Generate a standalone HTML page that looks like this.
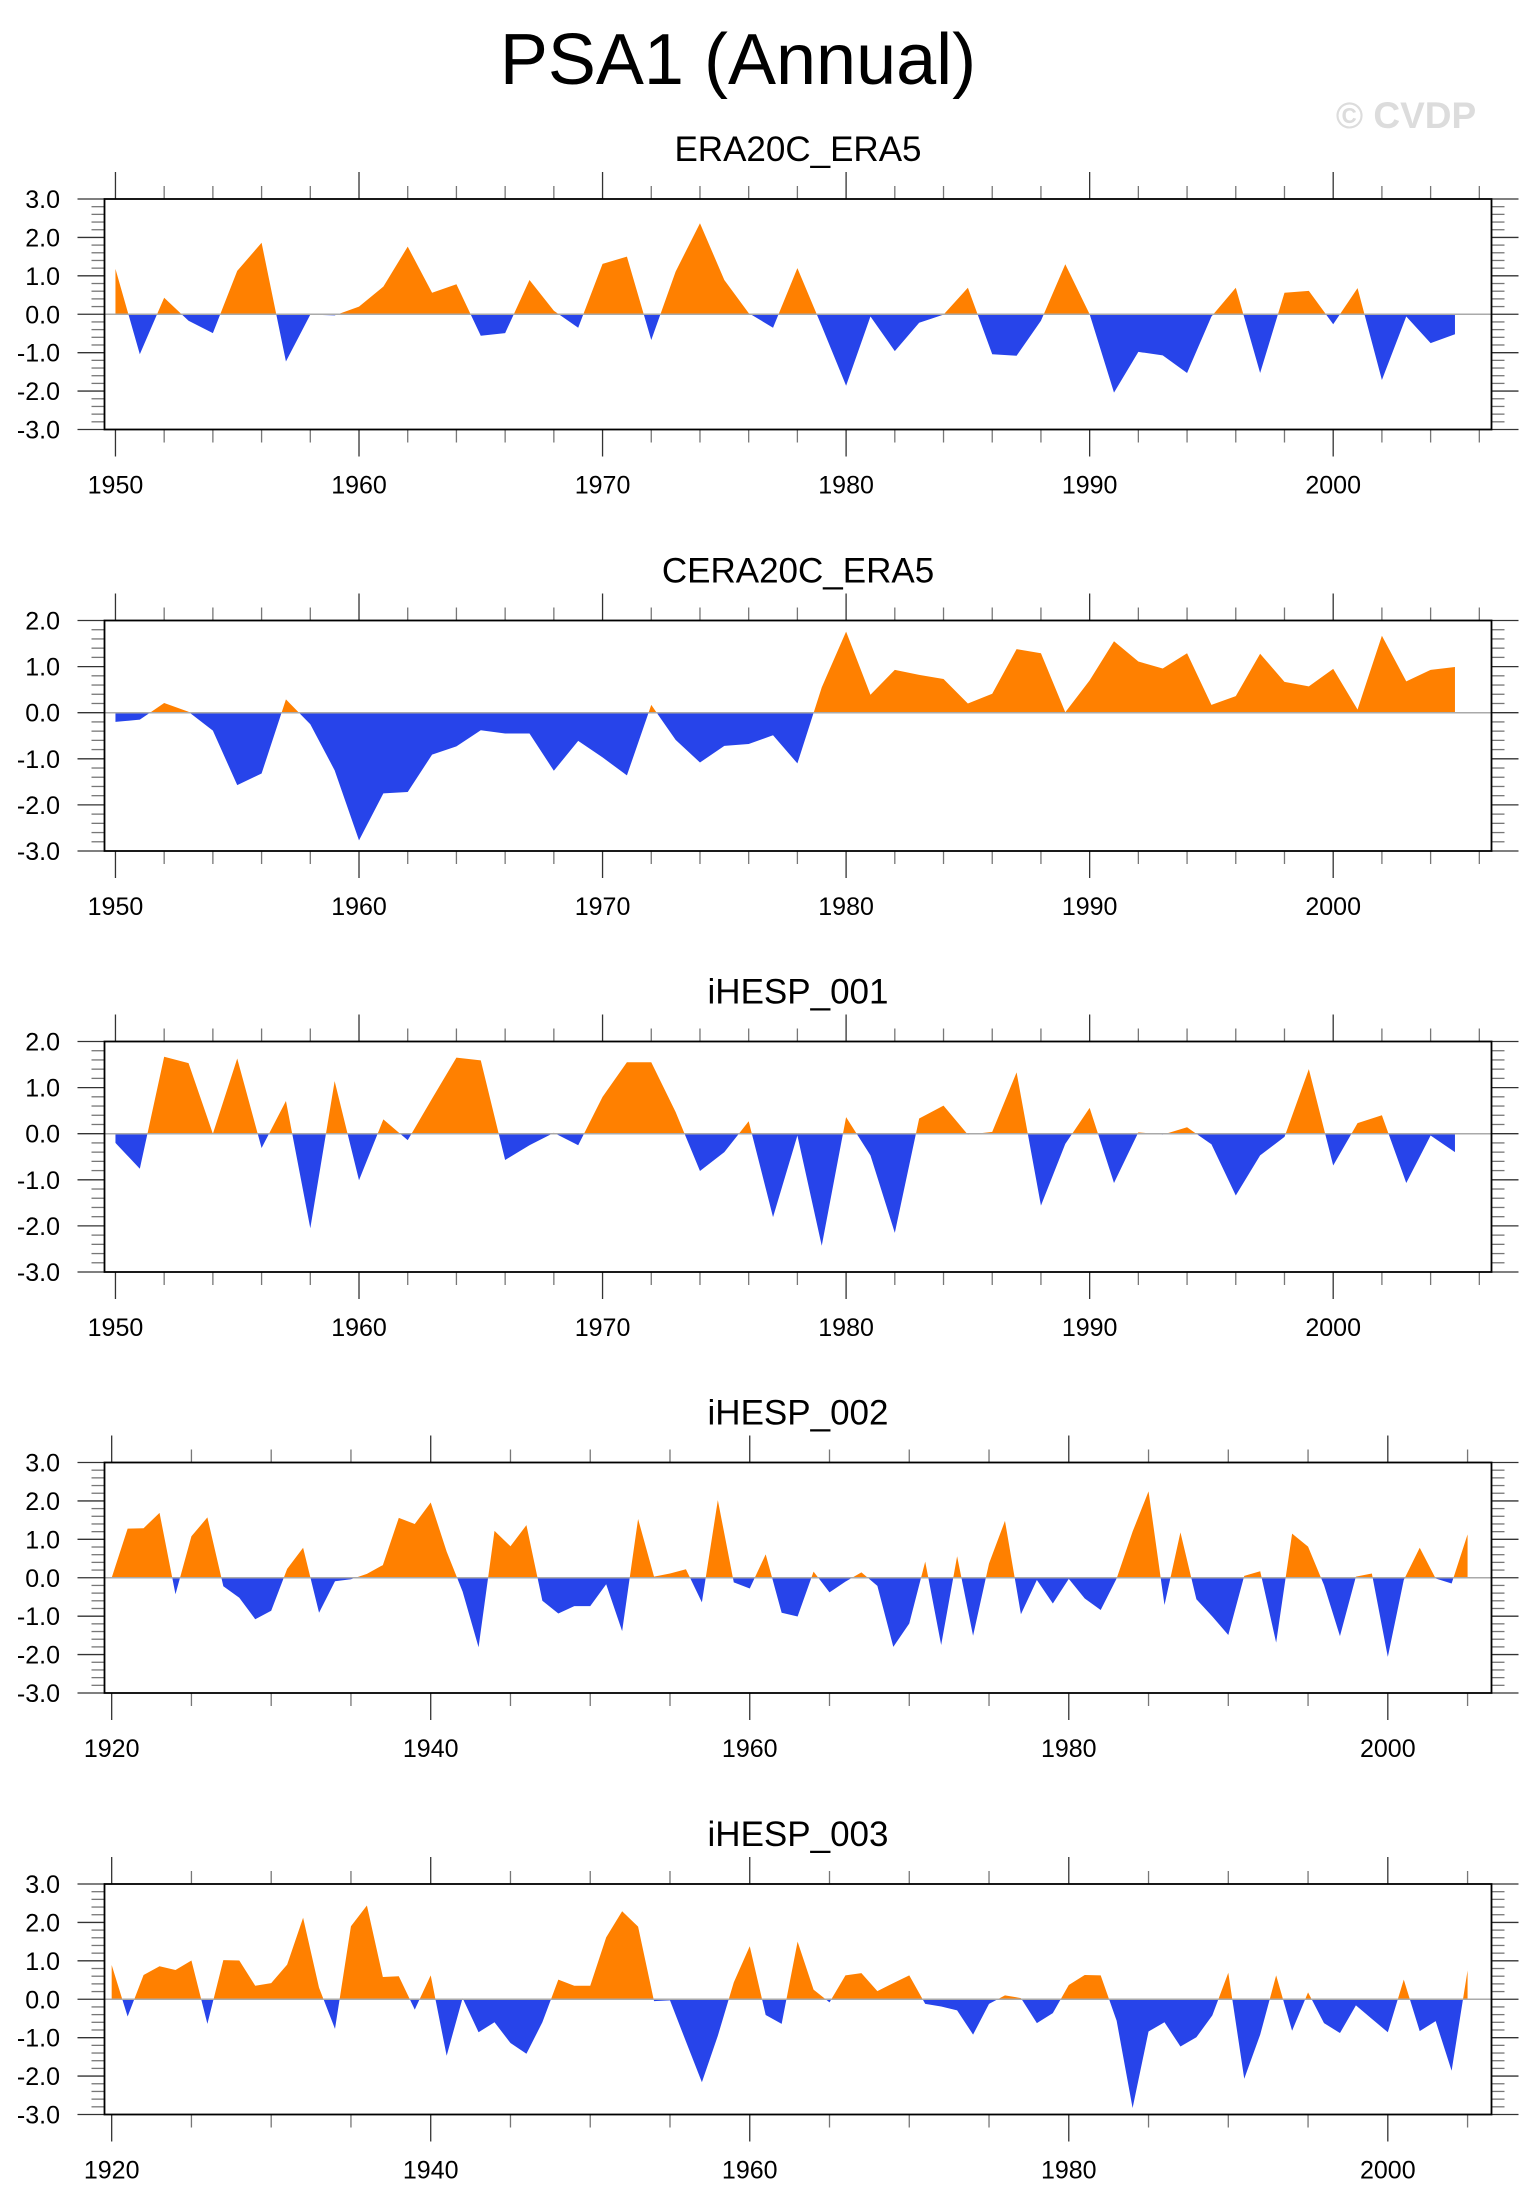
<!DOCTYPE html>
<html><head><meta charset="utf-8">
<style>
html,body{margin:0;padding:0;background:#fff;}
svg{display:block;font-family:"Liberation Sans",Arial,sans-serif;}
</style></head>
<body>
<svg id="chart" width="1533" height="2211" viewBox="0 0 1533 2211" xmlns="http://www.w3.org/2000/svg">
<text x="738" y="84" font-size="72" text-anchor="middle" fill="#000">PSA1 (Annual)</text>
<text x="1406" y="128" font-size="37" font-weight="bold" text-anchor="middle" fill="#dcdcdc">© CVDP</text>
</svg>
<script>
// ---- data ----
const titles = ["ERA20C_ERA5","CERA20C_ERA5","iHESP_001","iHESP_002","iHESP_003"];
const startYears = [1950,1950,1950,1920,1920];
const yMaxes = [3,2,2,3,3];
const era20cValues = [1.18,-1.04,0.43,-0.17,-0.49,1.13,1.86,-1.23,-0.01,-0.03,0.2,0.72,1.76,0.56,0.78,-0.56,-0.49,0.89,0.09,-0.35,1.31,1.5,-0.67,1.11,2.37,0.89,0.03,-0.35,1.2,-0.31,-1.86,-0.06,-0.96,-0.22,-0.01,0.69,-1.04,-1.08,-0.17,1.3,0.0,-2.04,-0.98,-1.07,-1.53,-0.06,0.69,-1.53,0.56,0.61,-0.26,0.68,-1.71,-0.06,-0.75,-0.52];
const cera20cValues = [-0.2,-0.15,0.21,0.02,-0.39,-1.57,-1.32,0.29,-0.25,-1.25,-2.77,-1.75,-1.72,-0.91,-0.73,-0.38,-0.45,-0.45,-1.26,-0.61,-0.97,-1.36,0.17,-0.59,-1.08,-0.72,-0.68,-0.49,-1.1,0.55,1.76,0.39,0.93,0.82,0.73,0.2,0.41,1.38,1.29,0.01,0.7,1.55,1.11,0.96,1.29,0.17,0.36,1.28,0.67,0.57,0.95,0.07,1.67,0.68,0.93,0.99];
const ihesp001Values = [-0.2,-0.76,1.67,1.53,0.0,1.63,-0.31,0.71,-2.05,1.14,-1.01,0.31,-0.14,0.76,1.65,1.59,-0.57,-0.25,0.02,-0.25,0.8,1.55,1.55,0.47,-0.81,-0.4,0.27,-1.81,-0.04,-2.43,0.36,-0.47,-2.15,0.33,0.61,-0.02,0.04,1.33,-1.56,-0.22,0.56,-1.07,0.03,-0.02,0.14,-0.23,-1.34,-0.47,-0.07,1.4,-0.69,0.23,0.4,-1.07,-0.04,-0.4];
const ihesp002Values = [0.0,1.28,1.29,1.69,-0.43,1.08,1.57,-0.22,-0.52,-1.08,-0.86,0.23,0.78,-0.91,-0.09,-0.04,0.1,0.33,1.56,1.4,1.96,0.68,-0.36,-1.81,1.22,0.82,1.37,-0.6,-0.93,-0.74,-0.74,-0.17,-1.39,1.53,0.03,0.11,0.22,-0.64,2.02,-0.12,-0.28,0.61,-0.91,-1.01,0.16,-0.38,-0.1,0.14,-0.21,-1.8,-1.19,0.42,-1.75,0.56,-1.51,0.37,1.48,-0.95,-0.06,-0.67,-0.03,-0.54,-0.84,-0.02,1.2,2.25,-0.71,1.18,-0.56,-1.01,-1.49,0.05,0.17,-1.69,1.15,0.81,-0.19,-1.52,0.03,0.11,-2.06,-0.06,0.78,-0.02,-0.15,1.13];
const ihesp003Values = [0.89,-0.45,0.63,0.86,0.76,1.01,-0.64,1.02,1.01,0.35,0.42,0.9,2.12,0.3,-0.77,1.9,2.44,0.58,0.6,-0.27,0.62,-1.47,0.03,-0.86,-0.6,-1.14,-1.42,-0.6,0.51,0.35,0.35,1.61,2.29,1.89,-0.05,-0.03,-1.1,-2.16,-0.95,0.44,1.38,-0.41,-0.64,1.5,0.25,-0.08,0.62,0.68,0.21,0.42,0.62,-0.12,-0.19,-0.29,-0.92,-0.12,0.1,0.03,-0.62,-0.36,0.37,0.63,0.62,-0.56,-2.83,-0.84,-0.6,-1.23,-0.99,-0.42,0.69,-2.07,-0.92,0.62,-0.82,0.18,-0.62,-0.88,-0.16,-0.51,-0.86,0.51,-0.83,-0.57,-1.86,0.75];
const seriesList = [era20cValues,cera20cValues,ihesp001Values,ihesp002Values,ihesp003Values];

// ---- layout ----
const NS="http://www.w3.org/2000/svg";
const svg=document.getElementById('chart');
const boxL=104.5, boxR=1491.5, boxH=230.5;
const tops=[199,620.5,1041.5,1462.5,1884];
function mk(tag,attrs,parent){const e=document.createElementNS(NS,tag);for(const k in attrs)e.setAttribute(k,attrs[k]);(parent||svg).appendChild(e);return e;}

seriesList.forEach((vals,p)=>{
  const g=mk('g',{});
  
  
  const top=tops[p], bot=top+boxH;
  const y0=startYears[p], n=vals.length, yEnd=y0+n-1;
  const xMin=y0-0.45, xMax=yEnd+1.5;
  const yMax=yMaxes[p], yMin=-3;
  const sx=v=>boxL+(v-xMin)/(xMax-xMin)*(boxR-boxL);
  const sy=v=>top+(yMax-v)/(yMax-yMin)*boxH;
  const t=mk('text',{x:798,y:top-38,'font-size':35,'text-anchor':'middle',fill:'#000'},g);
  t.textContent=titles[p];
  
  
  let pos=[],neg=[];
  const zy=sy(0);
  pos.push([sx(y0),zy]);neg.push([sx(y0),zy]);
  for(let i=0;i<n;i++){
    const v=vals[i],x=sx(y0+i);
    if(i>0){const a=vals[i-1];if((a>0&&v<0)||(a<0&&v>0)){const f=a/(a-v);const cx=sx(y0+i-1+f);pos.push([cx,zy]);neg.push([cx,zy]);}}
    pos.push([x,sy(Math.max(v,0))]);neg.push([x,sy(Math.min(v,0))]);
  }
  pos.push([sx(yEnd),zy]);neg.push([sx(yEnd),zy]);
  const pp=mk('polygon',{points:pos.map(q=>q.join(',')).join(' '),fill:'#ff8000'},g);
  
  
  const np=mk('polygon',{points:neg.map(q=>q.join(',')).join(' '),fill:'#2744ea'},g);
  
  
  const zl=mk('line',{x1:boxL,x2:boxR,y1:zy,y2:zy,stroke:'#aaa','stroke-width':1.5},g);
  
  
  for(let k=0;k<=(yMax-yMin)*5;k++){
    const v=yMin+k*0.2, y=sy(v), major=(k%5===0);
    const len=major?27:13;
    mk('line',{x1:boxL-len,x2:boxL,y1:y,y2:y,stroke:major?'#333':'#777','stroke-width':1.3},g);
    mk('line',{x1:boxR,x2:boxR+len,y1:y,y2:y,stroke:major?'#333':'#777','stroke-width':1.3},g);
    if(major){
      const lb=mk('text',{x:60,y:y+9,'font-size':25,'text-anchor':'end',fill:'#000'},g);
      lb.textContent=(Math.round(v)).toFixed(1);
      
      
    }
  }
  const minorStep=(y0===1920)?5:2, majorStep=(y0===1920)?20:10;
  for(let yr=y0;yr<=xMax;yr+=minorStep){
    const x=sx(yr), major=((yr-y0)%majorStep===0);
    const len=major?27:13;
    mk('line',{x1:x,x2:x,y1:bot,y2:bot+len,stroke:major?'#333':'#777','stroke-width':1.3},g);
    mk('line',{x1:x,x2:x,y1:top-len,y2:top,stroke:major?'#333':'#777','stroke-width':1.3},g);
    if(major){
      const lb=mk('text',{x:x,y:bot+64,'font-size':25,'text-anchor':'middle',fill:'#000'},g);
      lb.textContent=String(yr);
      
      
    }
  }
  const fr=mk('rect',{x:boxL,y:top,width:boxR-boxL,height:boxH,fill:'none',stroke:'#000','stroke-width':1.8},g);
  
  
});
</script>
</body></html>
